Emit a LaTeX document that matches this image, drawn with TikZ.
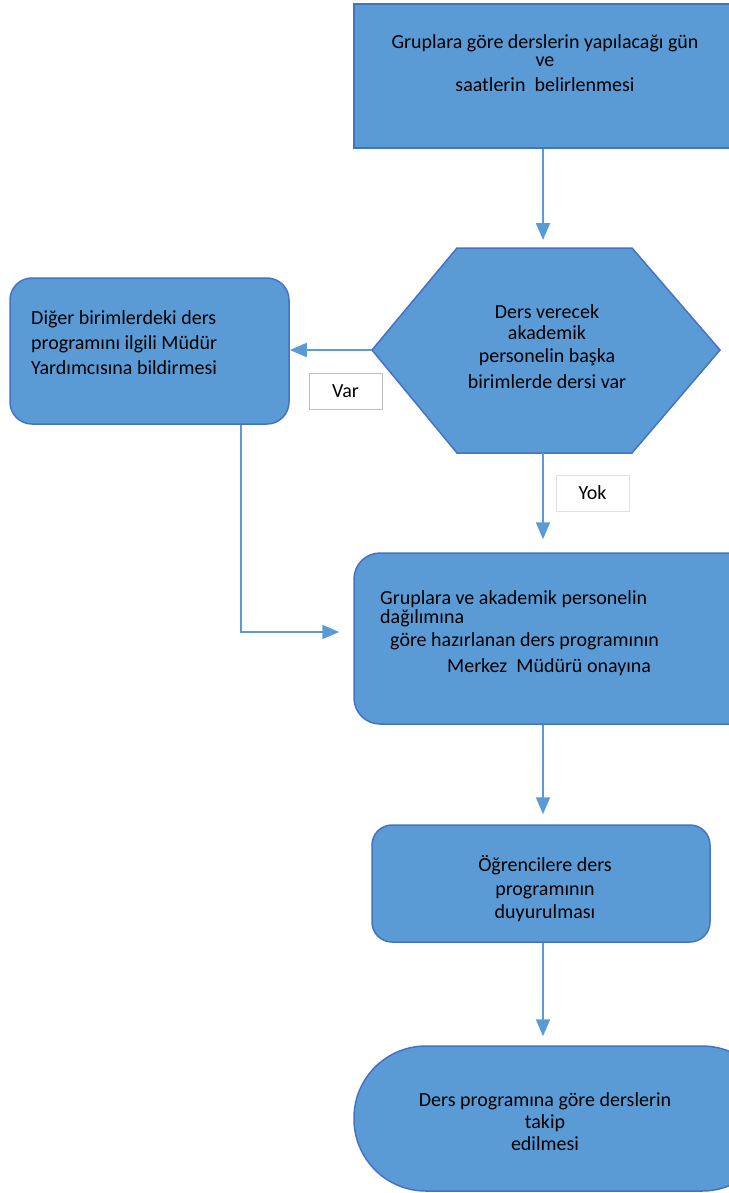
\documentclass[tikz,border=0pt]{standalone}
\usepackage{fontspec}
\setmainfont{Carlito}
\usepackage{tikz}
\usetikzlibrary{positioning, shapes.geometric, arrows, arrows.meta}
\definecolor{boxblue}{RGB}{91,155,213}
\definecolor{edgeblue}{RGB}{68,114,196}
\tikzstyle{arrow} = [line width=2pt, draw=boxblue, -{Triangle[length=17pt,width=14pt]}]
\tikzstyle{process} = [rectangle, fill=boxblue, draw=edgeblue, line width=1.5pt]
\tikzstyle{txt} = [font=\fontsize{20}{24}\selectfont, align=center, inner sep=0pt]
\tikzstyle{answer} = [rectangle, fill=white, draw=black!25, line width=0.6pt, font=\fontsize{20}{24}\selectfont, minimum width=73pt, minimum height=36pt]

\begin{document}
\begin{tikzpicture}[x=1pt, y=-1pt]
  \useasboundingbox (0,0) rectangle (728,1193);

  % Top box
  \node[process, minimum width=420pt, minimum height=144pt] (plan) at (564,76) {};
  \node[txt] (plantext) at (545,63) {Gruplara göre derslerin yapılacağı gün\\[-6pt] ve\\[1pt] saatlerin\ \ belirlenmesi};

  % Decision hexagon
  \coordinate (hexL) at (372,350);
  \coordinate (hexR) at (720,350);
  \coordinate (hexT) at (543,248);
  \coordinate (hexB) at (543,453);
  \draw[fill=boxblue, draw=edgeblue, line width=1.5pt]
    (hexL) -- (457,248) -- (632,248) -- (hexR) -- (632,453) -- (457,453) -- cycle;
  \node[txt] (check) at (547,347) {Ders verecek\\[-3pt] akademik\\[-1pt] personelin başka\\[2pt] birimlerde dersi var};

  % Left box
  \node[process, rounded corners=22pt, minimum width=279pt, minimum height=146pt] (notify) at (149.5,351) {};
  \node[txt, align=left, anchor=west] (notifytext) at (31,343) {Diğer birimlerdeki ders\\[1pt] programını ilgili Müdür\\[1pt] Yardımcısına bildirmesi};

  % Middle box
  \node[process, rounded corners=26pt, minimum width=420pt, minimum height=171pt] (approve) at (564,638.5) {};
  \node[txt, align=left, anchor=north west] (approvetext) at (380,590) {Gruplara ve akademik personelin\\[-5pt] dağılımına\\[-1pt] \hspace*{10pt}göre hazırlanan ders programının\\[2pt] \hspace*{67pt}Merkez\ \ Müdürü onayına};

  % Students box
  \node[process, rounded corners=20pt, minimum width=338pt, minimum height=117pt] (announce) at (541,883.5) {};
  \node[txt] (announcetext) at (545,889) {Öğrencilere ders\\[0pt] programının\\[-1pt] duyurulması};

  % Terminal
  \node[process, rounded corners=72pt, minimum width=420pt, minimum height=145pt] (follow) at (564,1118.5) {};
  \node[txt] (followtext) at (545,1122) {Ders programına göre derslerin\\[-2pt] takip\\[-2pt] edilmesi};

  % Answers
  \node[answer] (yes) at (345.5,391.5) {Var};
  \node[answer, draw=black!12] (no) at (592.5,493) {Yok};

  % Connectors
  \draw[arrow, shorten >=8pt] (plan.south -| hexT) -- (hexT);
  \draw[arrow] (hexL) -- (notify.east |- hexL);
  \draw[arrow, shorten >=13pt] (hexB) -- (approve.north -| hexB);
  \coordinate (elbow) at (241,632);
  \draw[arrow, shorten >=14pt] (notify.south -| elbow) -- (elbow) -- (approve.west |- elbow);
  \draw[arrow, shorten >=10pt] (approve.south -| hexB) -- (announce.north -| hexB);
  \draw[arrow, shorten >=9pt] (announce.south -| hexB) -- (follow.north -| hexB);
\end{tikzpicture}
\end{document}
